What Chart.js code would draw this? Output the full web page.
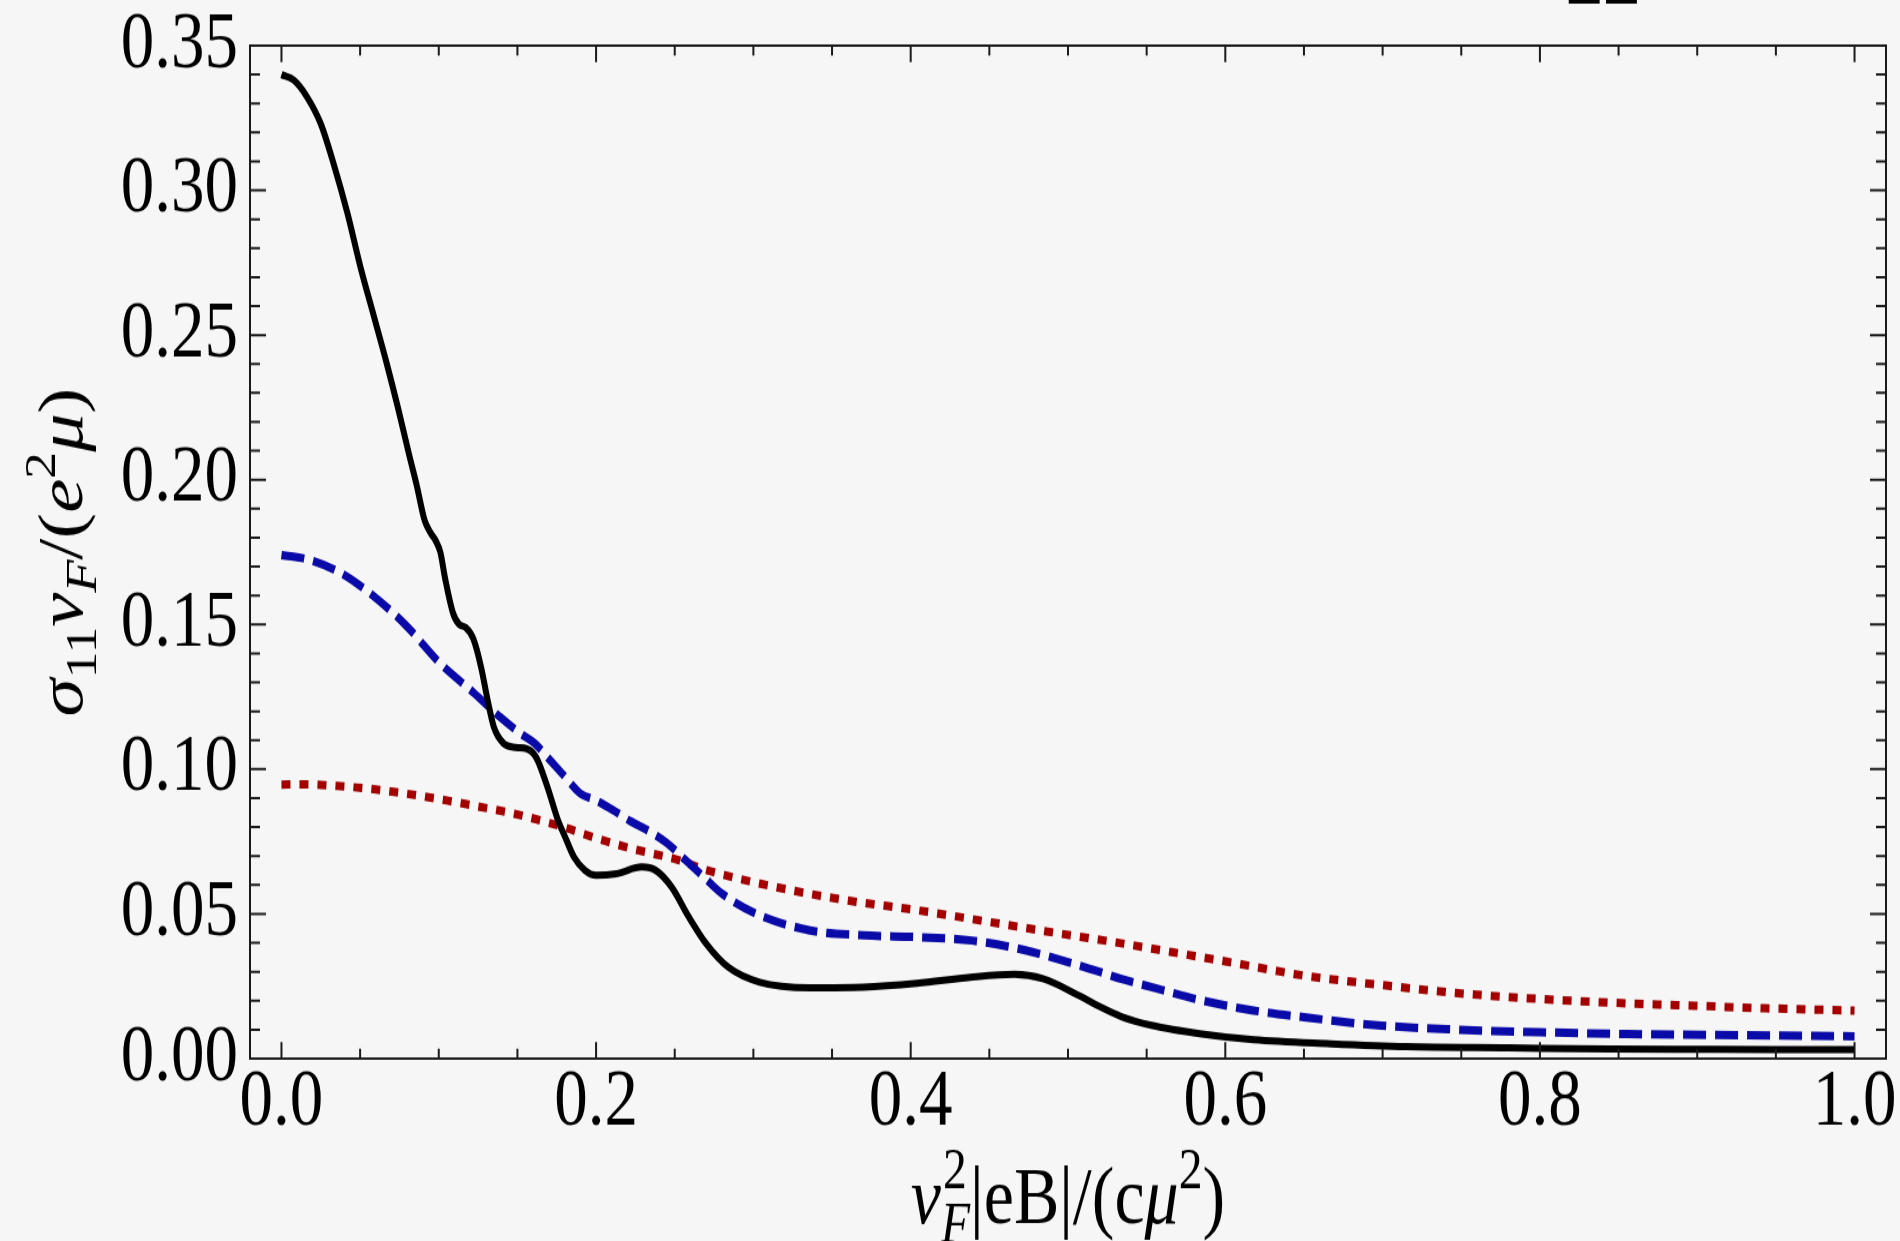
<!DOCTYPE html>
<html>
<head>
<meta charset="utf-8">
<script src="https://cdn.jsdelivr.net/npm/chart.js@4.4.0/dist/chart.umd.min.js"></script>
<style>
  html, body { margin: 0; padding: 0; background: #f6f6f6; overflow: hidden; }
</style>
</head>
<body>
<!-- drawn at 1034 px high and stretched to 1241, like the squashed original figure -->
<canvas id="chart" width="1900" height="1034" style="display:block;width:1900px;height:1241px"></canvas>
<script>
// black solid curve
var blackX = [0.000, 0.008, 0.016, 0.025, 0.033, 0.042, 0.050, 0.059, 0.067, 0.074,
  0.081, 0.086, 0.091, 0.095, 0.098, 0.101, 0.104, 0.109, 0.113, 0.117,
  0.122, 0.127, 0.131, 0.135, 0.141, 0.149, 0.156, 0.162, 0.169, 0.176,
  0.180, 0.186, 0.193, 0.200, 0.213, 0.229, 0.238, 0.248, 0.259, 0.270,
  0.284, 0.304, 0.336, 0.370, 0.404, 0.438, 0.466, 0.484, 0.507, 0.520,
  0.534, 0.553, 0.585, 0.618, 0.667, 0.715, 0.780, 0.845, 0.910, 1.000];
var blackY = [0.340, 0.338, 0.3325, 0.323, 0.3095, 0.292, 0.274, 0.256, 0.240, 0.225,
  0.209, 0.198, 0.186, 0.1815, 0.179, 0.175, 0.166, 0.154, 0.150, 0.149,
  0.145, 0.135, 0.124, 0.1146, 0.109, 0.1075, 0.107, 0.104, 0.094, 0.082,
  0.077, 0.0696, 0.065, 0.0633, 0.0639, 0.0662, 0.065, 0.0593, 0.0489, 0.0397,
  0.0316, 0.0264, 0.0245, 0.0247, 0.026, 0.0281, 0.0291, 0.0276, 0.0218, 0.018,
  0.0145, 0.0115, 0.0085, 0.0065, 0.0051, 0.0041, 0.0037, 0.0033, 0.0032, 0.0031];

// blue dashed curve
var blueX = [0.000, 0.018, 0.038, 0.059, 0.080, 0.101, 0.122, 0.139, 0.152, 0.161,
  0.169, 0.180, 0.190, 0.200, 0.211, 0.222, 0.234, 0.245, 0.257, 0.268,
  0.280, 0.302, 0.336, 0.370, 0.404, 0.439, 0.473, 0.507, 0.520, 0.534,
  0.553, 0.585, 0.618, 0.650, 0.699, 0.748, 0.800, 0.855, 0.911, 1.000];
var blueY = [0.174, 0.1723, 0.1677, 0.1596, 0.1492, 0.1365, 0.1265, 0.118, 0.1123, 0.1089,
  0.1042, 0.0975, 0.0916, 0.0892, 0.0858, 0.082, 0.0785, 0.0745, 0.0685, 0.063,
  0.057, 0.050, 0.0443, 0.0426, 0.042, 0.0408, 0.0374, 0.0322, 0.030, 0.0275,
  0.0247, 0.0201, 0.0166, 0.0143, 0.0114, 0.0100, 0.0091, 0.0085, 0.0082, 0.0077];

// red dotted curve
var redX = [0.000, 0.016, 0.035, 0.055, 0.080, 0.105, 0.126, 0.148, 0.178, 0.200,
  0.223, 0.253, 0.268, 0.314, 0.359, 0.405, 0.450, 0.496, 0.530, 0.566,
  0.600, 0.650, 0.698, 0.748, 0.800, 0.855, 0.901, 0.943, 1.000];
var redY = [0.0947, 0.0948, 0.0942, 0.0933, 0.0915, 0.0892, 0.087, 0.0846, 0.0802, 0.0762,
  0.0725, 0.0685, 0.0655, 0.0593, 0.0547, 0.0512, 0.0472, 0.0431, 0.0402, 0.0368,
  0.0336, 0.0287, 0.0255, 0.0226, 0.0206, 0.0191, 0.0182, 0.0174, 0.0166];

var xTickValues = [0, 0.2, 0.4, 0.6, 0.8, 1.0];
var yTickValues = [0, 0.05, 0.10, 0.15, 0.20, 0.25, 0.30, 0.35];

var SY = 1241 / 1034;
var SERIF = '"Liberation Serif", "Times New Roman", serif';

function pairs(xs, ys) {
  return xs.map(function (x, i) { return { x: x, y: ys[i] }; });
}

// pieces of the axis titles: text, italic, size factor, baseline shift (em)
var xTitleParts = [
  { t: 'v', it: true },
  { t: '2', scale: 0.7, dy: -0.42, stack: true, dx: 0.03 },
  { t: 'F', it: true, scale: 0.7, dy: 0.24 },
  { t: '|eB|/(c' },
  { t: '\u03bc', it: true },
  { t: '2', scale: 0.7, dy: -0.42 },
  { t: ')' }
];
var yTitleParts = [
  { t: '\u03c3', it: true },
  { t: '11', scale: 0.7, dy: 0.22 },
  { t: 'v', it: true },
  { t: 'F', it: true, scale: 0.7, dy: 0.22 },
  { t: '/(' },
  { t: 'e', it: true },
  { t: '2', scale: 0.7, dy: -0.42 },
  { t: '\u03bc', it: true },
  { t: ')' }
];

function layoutMath(ctx, parts, size) {
  var w = 0, items = [];
  parts.forEach(function (p) {
    var s = size * (p.scale || 1);
    var font = (p.it ? 'italic ' : '') + s + 'px ' + SERIF;
    ctx.font = font;
    var tw = ctx.measureText(p.t).width;
    items.push({ t: p.t, font: font, x: w + (p.dx || 0) * size, dy: (p.dy || 0) * size });
    if (!p.stack) w += tw;
  });
  return { items: items, width: w };
}

function drawMath(ctx, lay, x, y) {
  lay.items.forEach(function (it) {
    ctx.font = it.font;
    ctx.fillText(it.t, x + it.x, y + it.dy);
  });
}

// Mathematica-style frame with inward ticks on all four sides
var frameTicks = {
  id: 'frameTicks',
  afterDraw: function (chart) {
    var ctx = chart.ctx, a = chart.chartArea;
    var xs = chart.scales.x, ys = chart.scales.y;
    ctx.save();
    ctx.strokeStyle = '#1a1a1a';
    ctx.lineWidth = 2;
    ctx.strokeRect(a.left, a.top, a.right - a.left, a.bottom - a.top);
    ctx.beginPath();
    for (var i = 0; i <= 20; i++) {
      var px = xs.getPixelForValue(i * 0.05);
      var len = (i % 4 === 0 ? 16.5 : 10) / SY;
      ctx.moveTo(px, a.bottom); ctx.lineTo(px, a.bottom - len);
      ctx.moveTo(px, a.top); ctx.lineTo(px, a.top + len);
    }
    for (var j = 0; j <= 35; j++) {
      var py = ys.getPixelForValue(j * 0.01);
      var l2 = j % 5 === 0 ? 16 : 10;
      ctx.moveTo(a.left, py); ctx.lineTo(a.left + l2, py);
      ctx.moveTo(a.right, py); ctx.lineTo(a.right - l2, py);
    }
    ctx.stroke();
    ctx.restore();
  }
};

var mathLabels = {
  id: 'mathLabels',
  afterDraw: function (chart) {
    var ctx = chart.ctx, a = chart.chartArea;
    ctx.save();
    ctx.fillStyle = '#000';
    ctx.textBaseline = 'alphabetic';
    ctx.textAlign = 'left';
    var xt = layoutMath(ctx, xTitleParts, 68);
    drawMath(ctx, xt, (a.left + a.right) / 2 - xt.width / 2, 1019);

    // page number fragment cut by the top edge
    ctx.font = 'bold 84px ' + SERIF;
    ctx.fillText('11', 1562, 2.5);

    var yt = layoutMath(ctx, yTitleParts, 64);
    ctx.translate(82, (a.top + a.bottom) / 2);
    ctx.rotate(-Math.PI / 2);
    drawMath(ctx, yt, -yt.width / 2, 0);
    ctx.restore();
  }
};

var tickFont = { family: SERIF, size: 67 };

new Chart(document.getElementById('chart').getContext('2d'), {
  type: 'line',
  data: {
    datasets: [{
      label: 'solid',
      data: pairs(blackX, blackY),
      borderColor: '#000000',
      borderWidth: 6,
      pointRadius: 0,
      fill: false,
      cubicInterpolationMode: 'monotone'
    }, {
      label: 'dashed',
      data: pairs(blueX, blueY),
      borderColor: '#0a0aa8',
      borderWidth: 7,
      borderDash: [23, 9],
      pointRadius: 0,
      fill: false,
      cubicInterpolationMode: 'monotone'
    }, {
      label: 'dotted',
      data: pairs(redX, redY),
      borderColor: '#a40000',
      borderWidth: 7,
      borderDash: [9, 9],
      pointRadius: 0,
      fill: false,
      cubicInterpolationMode: 'monotone'
    }]
  },
  options: {
    responsive: false,
    animation: false,
    devicePixelRatio: 1,
    layout: { padding: { left: 0, top: 38, right: 14, bottom: 0 } },
    plugins: {
      legend: { display: false },
      tooltip: { enabled: false }
    },
    scales: {
      x: {
        type: 'linear',
        min: -0.02,
        max: 1.02,
        grid: { display: false },
        border: { display: false },
        afterBuildTicks: function (scale) {
          scale.ticks = xTickValues.map(function (v) { return { value: v }; });
        },
        afterFit: function (scale) {
          scale.height = 152;
          scale.paddingLeft = 0;
          scale.paddingRight = 0;
        },
        ticks: {
          font: tickFont,
          color: '#000',
          padding: -11,
          maxRotation: 0,
          autoSkip: false,
          callback: function (v) { return Number(v).toFixed(1); }
        }
      },
      y: {
        min: 0,
        max: 0.35,
        grid: { display: false },
        border: { display: false },
        afterBuildTicks: function (scale) {
          scale.ticks = yTickValues.map(function (v) { return { value: v }; });
        },
        afterFit: function (scale) {
          scale.width = 250;
          scale.paddingTop = 0;
          scale.paddingBottom = 0;
        },
        ticks: {
          font: tickFont,
          color: '#000',
          padding: 4,
          autoSkip: false,
          callback: function (v) { return Number(v).toFixed(2); }
        }
      }
    }
  },
  plugins: [frameTicks, mathLabels]
});
</script>
</body>
</html>
